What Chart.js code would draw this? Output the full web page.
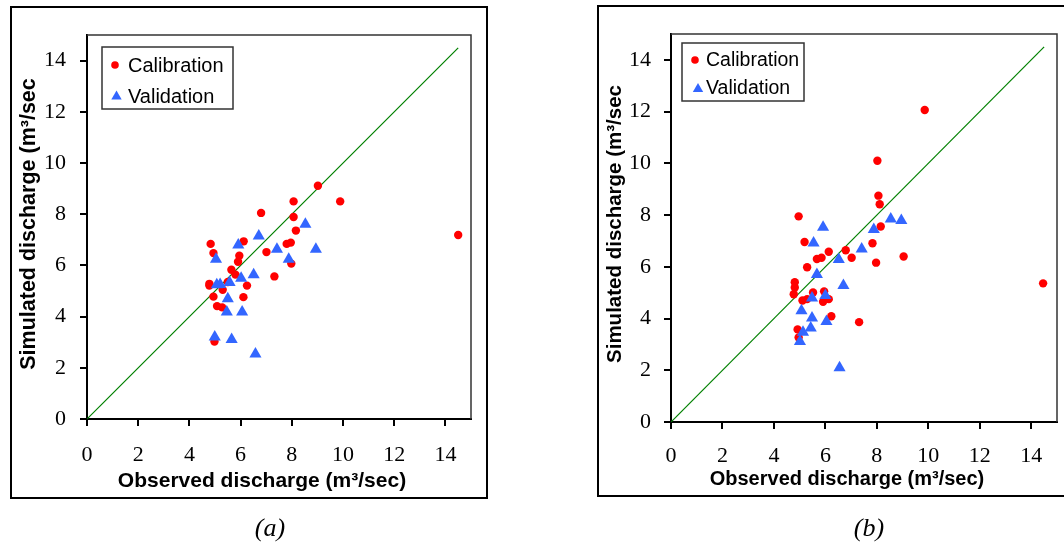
<!DOCTYPE html>
<html>
<head>
<meta charset="utf-8">
<script src="https://cdn.jsdelivr.net/npm/chart.js@4.4.0/dist/chart.umd.min.js"></script>
<style>
    body { margin: 0; background: #fff; width: 1064px; height: 548px; overflow: hidden; position: relative; }
    .frame { position: absolute; border: 2px solid #000; box-sizing: border-box; }
    .panel { position: absolute; top: 0; width: 532px; height: 548px; }
    .caption { position: absolute; width: 100px; text-align: center; font-family: 'Liberation Serif', 'Times New Roman', serif; font-style: italic; font-size: 26px; line-height: 30px; }
</style>
</head>
<body>
<div class="frame" style="left:10px; top:6px; width:478px; height:493px;"></div>
<div class="frame" style="left:597px; top:5px; width:480px; height:492px;"></div>
<div class="panel" style="left:0px;"><canvas id="chartA" width="532" height="548"></canvas></div>
<div class="panel" style="left:532px;"><canvas id="chartB" width="532" height="548"></canvas></div>
<div class="caption" style="left:220px; top:513px;">(a)</div>
<div class="caption" style="left:819px; top:513px;">(b)</div>
<script>
// tick values shared by both panels
const xTicks = [0, 2, 4, 6, 8, 10, 12, 14];
const yTicks = [0, 2, 4, 6, 8, 10, 12, 14];

// 1:1 line
const lineX = [0, 14.5];
const lineY = [0, 14.5];

// panel (a)
const calAX = [4.83, 4.94, 4.78, 4.78, 4.94, 4.98, 5.08, 5.28, 5.30, 5.50, 5.64, 5.80, 5.90, 5.95, 6.12, 6.11, 6.25, 6.80, 7.01, 7.32, 7.80, 7.96, 7.98, 8.07, 8.07, 8.16, 9.02, 9.89, 14.50];
const calAY = [6.84, 6.48, 5.28, 5.21, 4.78, 3.03, 4.41, 4.36, 5.05, 5.35, 5.83, 5.64, 6.14, 6.38, 6.94, 4.76, 5.21, 8.05, 6.52, 5.57, 6.84, 6.89, 6.07, 8.50, 7.89, 7.36, 9.11, 8.50, 7.19];
const valAX = [8.53, 6.71, 5.91, 5.04, 7.42, 8.94, 7.88, 6.51, 6.02, 5.07, 5.20, 5.57, 5.50, 5.46, 6.06, 4.99, 5.65, 6.58];
const valAY = [7.61, 7.15, 6.80, 6.24, 6.63, 6.63, 6.24, 5.63, 5.50, 5.24, 5.25, 5.33, 4.70, 4.18, 4.18, 3.20, 3.11, 2.54];

// panel (b)
const calBX = [8.02, 8.06, 8.11, 8.15, 4.96, 5.19, 6.13, 5.67, 5.85, 6.79, 7.02, 7.83, 7.97, 9.04, 5.29, 4.81, 4.81, 4.77, 5.52, 5.95, 5.11, 5.29, 5.91, 6.13, 6.23, 7.31, 4.92, 4.96, 9.86, 14.46];
const calBY = [10.10, 8.75, 8.42, 7.56, 7.95, 6.96, 6.58, 6.30, 6.35, 6.64, 6.35, 6.91, 6.16, 6.40, 5.98, 5.40, 5.20, 4.94, 5.01, 5.05, 4.70, 4.75, 4.65, 4.75, 4.09, 3.86, 3.58, 3.27, 12.06, 5.36];
const valBX = [8.54, 8.95, 7.88, 5.91, 5.54, 7.41, 6.52, 5.67, 6.70, 6.00, 5.48, 5.07, 5.48, 6.04, 5.43, 5.13, 5.01, 6.55];
const valBY = [7.85, 7.79, 7.44, 7.53, 6.92, 6.69, 6.28, 5.70, 5.28, 4.89, 4.79, 4.30, 4.02, 3.89, 3.63, 3.47, 3.11, 2.10];

const toPoints = (xs, ys) => xs.map((x, i) => ({ x: x, y: ys[i] }));

// draws the frame of the plot area, the boxed legend and the axis titles
const decorPlugin = {
    id: 'decor',
    afterDraw(chart, args, opts) {
        const ctx = chart.ctx;
        const area = chart.chartArea;
        ctx.save();

        // top and right edge of the plot area
        ctx.strokeStyle = '#333';
        ctx.lineWidth = 1.5;
        ctx.beginPath();
        ctx.moveTo(area.left, area.top);
        ctx.lineTo(area.right, area.top);
        ctx.lineTo(area.right, area.bottom);
        ctx.stroke();

        // legend box
        const lg = opts.legend;
        ctx.strokeStyle = '#333';
        ctx.lineWidth = 1.5;
        ctx.strokeRect(lg.x, lg.y, lg.w, lg.h);
        ctx.font = lg.fontSize + "px 'Liberation Sans', Arial, sans-serif";
        ctx.textBaseline = 'middle';
        ctx.textAlign = 'left';
        chart.data.datasets.filter(ds => ds.inLegend).forEach((ds, i) => {
            const item = lg.items[i];
            ctx.fillStyle = ds.backgroundColor;
            ctx.beginPath();
            if (ds.pointStyle === 'triangle') {
                const r = 6;
                ctx.moveTo(item.mx, item.my - r);
                ctx.lineTo(item.mx + r * 0.866, item.my + r / 2);
                ctx.lineTo(item.mx - r * 0.866, item.my + r / 2);
                ctx.closePath();
            } else {
                ctx.arc(item.mx, item.my, 3.8, 0, Math.PI * 2);
            }
            ctx.fill();
            ctx.fillStyle = '#000';
            ctx.fillText(ds.label, item.tx, item.ty);
        });

        // axis titles
        ctx.fillStyle = '#000';
        ctx.textAlign = 'center';
        ctx.font = 'bold ' + opts.xTitle.size + "px 'Liberation Sans', Arial, sans-serif";
        ctx.fillText(opts.xTitle.text, opts.xTitle.x, opts.xTitle.y);
        ctx.translate(opts.yTitle.x, opts.yTitle.y);
        ctx.rotate(-Math.PI / 2);
        ctx.font = 'bold ' + opts.yTitle.size + "px 'Liberation Sans', Arial, sans-serif";
        ctx.fillText(opts.yTitle.text, 0, 0);
        ctx.restore();
    }
};

function makeChart(canvasId, cal, val, layout) {
    const tickFont = { family: "'Liberation Serif', 'Times New Roman', serif", size: 22 };
    const gridOpts = { display: true, drawOnChartArea: false, drawTicks: true, tickLength: 7, lineWidth: 2, tickWidth: 2, tickColor: '#000' };

    return new Chart(document.getElementById(canvasId), {
        type: 'scatter',
        data: {
            datasets: [
                {
                    label: 'Calibration',
                    data: cal,
                    inLegend: true,
                    pointStyle: 'circle',
                    pointRadius: 4.2,
                    borderWidth: 0,
                    backgroundColor: '#ff0000',
                    order: 1
                },
                {
                    label: 'Validation',
                    data: val,
                    inLegend: true,
                    pointStyle: 'triangle',
                    pointRadius: 7,
                    borderWidth: 0,
                    backgroundColor: '#3366ff',
                    order: 0
                },
                {
                    label: '1:1',
                    data: toPoints(lineX, lineY),
                    showLine: true,
                    pointRadius: 0,
                    borderColor: '#008000',
                    borderWidth: 1.2,
                    backgroundColor: '#008000',
                    order: 2
                }
            ]
        },
        options: {
            responsive: false,
            animation: false,
            layout: { padding: layout.padding },
            plugins: {
                legend: { display: false },
                tooltip: { enabled: false },
                decor: layout.decor
            },
            scales: {
                x: {
                    type: 'linear',
                    min: 0,
                    max: 15,
                    afterBuildTicks: s => { s.ticks = xTicks.map(v => ({ value: v })); },
                    afterFit: s => { s.height = 60; },
                    ticks: { font: tickFont, color: '#000', padding: layout.xPad, maxRotation: 0 },
                    grid: gridOpts,
                    border: { display: true, color: '#000', width: 2 }
                },
                y: {
                    type: 'linear',
                    min: 0,
                    max: 15,
                    afterBuildTicks: s => { s.ticks = yTicks.map(v => ({ value: v })); },
                    afterFit: s => { s.width = layout.yWidth; },
                    ticks: { font: tickFont, color: '#000', padding: layout.yPad },
                    grid: gridOpts,
                    border: { display: true, color: '#000', width: 2 }
                }
            }
        },
        plugins: [decorPlugin]
    });
}

makeChart('chartA', toPoints(calAX, calAY), toPoints(valAX, valAY), {
    padding: { left: 0, top: 35, right: 61, bottom: 69 },
    yWidth: 87,
    xPad: 16,
    yPad: 14,
    decor: {
        legend: {
            x: 102, y: 47, w: 131, h: 62, fontSize: 20,
            items: [{ mx: 115, my: 65, tx: 128, ty: 66 }, { mx: 116.5, my: 96.5, tx: 128, ty: 97 }]
        },
        xTitle: { text: 'Observed discharge (m³/sec)', x: 262, y: 481, size: 21 },
        yTitle: { text: 'Simulated discharge (m³/sec', x: 29, y: 224, size: 21.5 }
    }
});

makeChart('chartB', toPoints(calBX, calBY), toPoints(valBX, valBY), {
    padding: { left: 0, top: 34, right: 6.5, bottom: 66 },
    yWidth: 139,
    xPad: 14,
    yPad: 13,
    decor: {
        legend: {
            x: 150, y: 43, w: 122, h: 58, fontSize: 19.5,
            items: [{ mx: 163, my: 60, tx: 174, ty: 61 }, { mx: 166, my: 89, tx: 174, ty: 89 }]
        },
        xTitle: { text: 'Observed discharge (m³/sec)', x: 315, y: 479, size: 20 },
        yTitle: { text: 'Simulated discharge (m³/sec', x: 83, y: 224, size: 20.5 }
    }
});
</script>
</body>
</html>
